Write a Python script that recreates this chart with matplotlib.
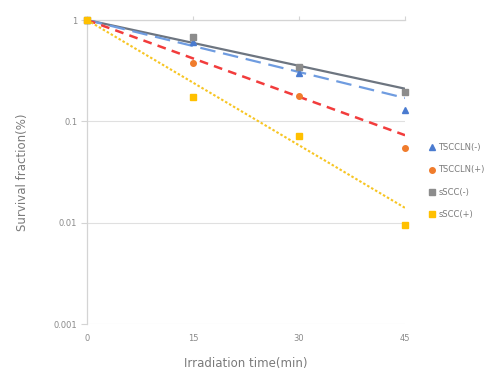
import matplotlib
matplotlib.use("Agg")
import matplotlib.pyplot as plt
from matplotlib.ticker import FixedLocator, FixedFormatter, NullLocator

# Irradiation time (min)
times = [0, 15, 30, 45]

# Survival fraction per cell line
tscc_ln_neg = [1.0, 0.60, 0.30, 0.13]
tscc_ln_pos = [1.0, 0.38, 0.177, 0.054]
sscc_neg = [1.0, 0.68, 0.34, 0.195]
sscc_pos = [1.0, 0.174, 0.071, 0.0095]

# Exponential trend lines: value at t=0 and t=45
trend_times = [0, 45]
trend_tscc_ln_neg = [1.0, 0.17]
trend_tscc_ln_pos = [1.0, 0.073]
trend_sscc_neg = [1.0, 0.21]
trend_sscc_pos = [1.0, 0.014]

labels = ["TSCCLN(-)", "TSCCLN(+)", "sSCC(-)", "sSCC(+)"]
y_ticks = [1, 0.1, 0.01, 0.001]
y_tick_labels = ["1", "0.1", "0.01", "0.001"]
x_ticks = [0, 15, 30, 45]

fig = plt.figure(figsize=(4.9, 3.7), dpi=100)
ax = fig.add_axes([0.1776, 0.1243, 0.649, 0.8216])

blue = "#4a7bd0"
orange = "#f07c2c"
gray = "#8c8c8c"
yellow = "#ffc000"

# trend lines
ax.plot(trend_times, trend_sscc_neg, color="#6d7580", lw=1.6, zorder=3)
ax.plot(trend_times, trend_tscc_ln_neg, color="#6f9ce0", lw=1.6,
        dashes=(7, 3.5), zorder=3)
ax.plot(trend_times, trend_tscc_ln_pos, color="#f23c3c", lw=1.8,
        dashes=(3.5, 2.5), zorder=3)
ax.plot(trend_times, trend_sscc_pos, color="#f7c523", lw=1.5,
        dashes=(1.2, 1.0), zorder=3)

# data points
ax.plot(times, tscc_ln_neg, ls="none", marker="^", ms=4.5, color=blue,
        label=labels[0], clip_on=False, zorder=4)
ax.plot(times, tscc_ln_pos, ls="none", marker="o", ms=4.0, color=orange,
        label=labels[1], clip_on=False, zorder=4)
ax.plot(times, sscc_neg, ls="none", marker="s", ms=3.8, color=gray,
        label=labels[2], clip_on=False, zorder=4)
ax.plot(times, sscc_pos, ls="none", marker="s", ms=3.8, color=yellow,
        label=labels[3], clip_on=False, zorder=4)

ax.set_yscale("log")
ax.set_ylim(0.001, 1)
ax.set_xlim(0, 45)

ax.yaxis.set_major_locator(FixedLocator(y_ticks))
ax.yaxis.set_major_formatter(FixedFormatter(y_tick_labels))
ax.yaxis.set_minor_locator(NullLocator())
ax.xaxis.set_major_locator(FixedLocator(x_ticks))

ax.grid(axis="y", color="#e0e0e0", lw=0.8, zorder=0)
for side in ["right", "bottom"]:
    ax.spines[side].set_visible(False)
for side in ["left", "top"]:
    ax.spines[side].set_color("#d4d4d4")
    ax.spines[side].set_linewidth(0.9)

tick_color = "#8a8a8a"
ax.tick_params(axis="x", top=True, bottom=False, labeltop=False,
               labelbottom=True, direction="out", length=3,
               color="#d4d4d4", labelcolor=tick_color, labelsize=6, pad=4)
ax.tick_params(axis="y", direction="out", length=4, color="#d4d4d4",
               labelcolor=tick_color, labelsize=6, pad=3)

ax.set_xlabel("Irradiation time(min)", fontsize=8.5, color="#7a7a7a",
              labelpad=10)
ax.set_ylabel("Survival fraction(%)", fontsize=8.5, color="#7a7a7a",
              labelpad=18)

ax.legend(loc="center left", bbox_to_anchor=(1.065, 0.47), frameon=False,
          fontsize=6, labelcolor="#7a7a7a", handlelength=0.8,
          handletextpad=0.3, labelspacing=1.6, borderaxespad=0)

fig.savefig("out.png", dpi=100, facecolor="white")
